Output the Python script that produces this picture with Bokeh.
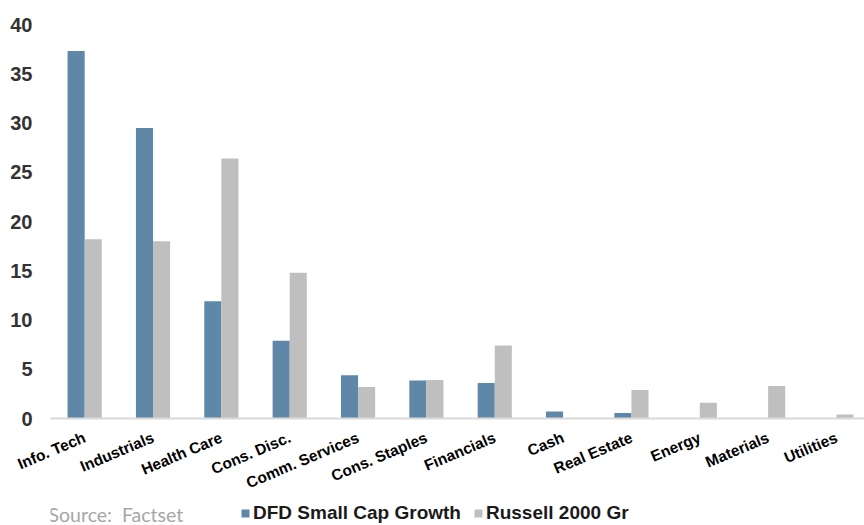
import numpy as np
from bokeh.plotting import figure
from bokeh.layouts import column
from bokeh.models import Range1d, FixedTicker, Legend, LegendItem, Label
from bokeh.embed import file_html
from bokeh.resources import INLINE

categories = ["Info. Tech", "Industrials", "Health Care", "Cons. Disc.", "Comm. Services",
              "Cons. Staples", "Financials", "Cash", "Real Estate", "Energy", "Materials", "Utilities"]
dfd = [37.3, 29.5, 11.9, 7.9, 4.4, 3.85, 3.6, 0.7, 0.55, 0.0, 0.0, 0.0]
russell = [18.2, 18.0, 26.4, 14.8, 3.2, 3.9, 7.4, 0.0, 2.9, 1.6, 3.3, 0.4]
y_ticks = [0, 5, 10, 15, 20, 25, 30, 35, 40]
series_names = ["DFD Small Cap Growth", "Russell 2000 Gr"]
source_text = "Source:\u00a0 Factset"

BLUE = "#5f87a7"
GREY = "#bfbfbf"
FONT = "Liberation Sans"

p = figure(width=864, height=502, output_backend="svg", toolbar_location=None,
           x_range=Range1d(-0.5, 11.41), y_range=Range1d(0, 40),
           min_border_left=50, min_border_right=0, min_border_top=24, min_border_bottom=82)
p.outline_line_color = None
p.grid.visible = False
p.background_fill_color = "white"
p.border_fill_color = "white"

x = np.arange(len(categories))
r1 = p.vbar(x=x - 0.125, top=dfd, width=0.25, fill_color=BLUE, line_color=None)
r2 = p.vbar(x=x + 0.125, top=russell, width=0.25, fill_color=GREY, line_color=None)

# x axis
p.xaxis.ticker = FixedTicker(ticks=list(x))
p.xaxis.major_label_overrides = {int(i): c for i, c in zip(x, categories)}
p.xaxis.major_label_orientation = 0.40
p.xaxis.major_tick_line_color = None
p.xaxis.minor_tick_line_color = None
p.xaxis.major_tick_out = 0
p.xaxis.major_label_standoff = 18
p.xaxis.axis_line_color = "#d9d9d9"
p.xaxis.axis_line_width = 2
p.xaxis.major_label_text_font = FONT
p.xaxis.major_label_text_font_style = "bold"
p.xaxis.major_label_text_font_size = "15.5px"
p.xaxis.major_label_text_color = "#000000"

# y axis
p.yaxis.ticker = FixedTicker(ticks=y_ticks)
p.yaxis.axis_line_color = None
p.yaxis.major_tick_line_color = None
p.yaxis.minor_tick_line_color = None
p.yaxis.major_tick_out = 0
p.yaxis.major_label_standoff = 18
p.yaxis.major_label_text_font = FONT
p.yaxis.major_label_text_font_style = "bold"
p.yaxis.major_label_text_font_size = "20px"
p.yaxis.major_label_text_color = "#333333"

# footer strip: source note + legend (frame aligned with main frame, x in page px)
f = figure(width=864, height=23, output_backend="svg", toolbar_location=None,
           x_range=Range1d(50, 864), y_range=Range1d(0, 23),
           min_border=0, x_axis_type=None, y_axis_type=None)
f.outline_line_color = None
f.grid.visible = False
l1 = f.vbar(x=[-1000], top=[1], width=1, fill_color=BLUE, line_color=None)
l2 = f.vbar(x=[-1000], top=[1], width=1, fill_color=GREY, line_color=None)

legend = Legend(items=[LegendItem(label=series_names[0], renderers=[l1]),
                       LegendItem(label=series_names[1], renderers=[l2])],
                orientation="horizontal", location=(190, 1),
                padding=0, margin=0, spacing=12, label_standoff=3,
                glyph_width=10, glyph_height=10, label_height=20,
                border_line_alpha=0, background_fill_alpha=0,
                label_text_font=FONT, label_text_font_style="bold",
                label_text_font_size="19px", label_text_color="#1a1a1a")
f.add_layout(legend, "center")

src = Label(x=48, y=11, text=source_text,
            text_font="Lato", text_font_size="19.5px", text_color="#a6a6a6",
            text_baseline="middle", text_align="left")
f.add_layout(src)

layout = column(p, f, spacing=0)
open("out.html", "w").write(file_html(layout, INLINE))
